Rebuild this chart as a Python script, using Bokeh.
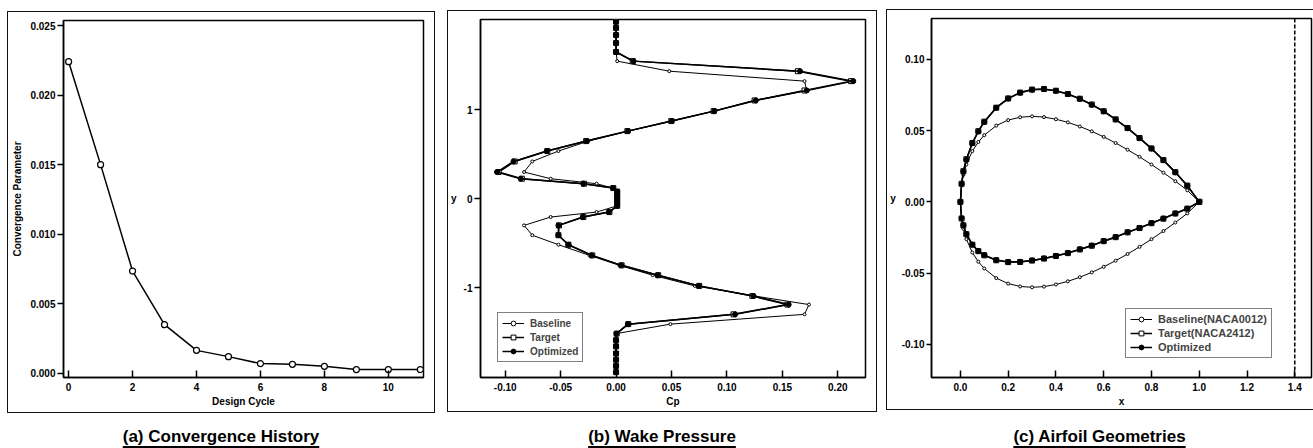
from bokeh.plotting import figure
from bokeh.models import Range1d, FixedTicker, PrintfTickFormatter, Span, Div
from bokeh.layouts import row, column
from bokeh.embed import file_html
from bokeh.resources import INLINE

FONT = "Liberation Sans"

# ---------------- (a) Convergence History ----------------
design_cycle = [0, 1, 2, 3, 4, 5, 6, 7, 8, 9, 10, 11]
convergence = [0.0224, 0.0150, 0.00735, 0.0035, 0.00165, 0.0012, 0.0007, 0.00065, 0.0005, 0.00027, 0.00027, 0.00027]

# ---------------- (b) Wake Pressure ----------------
wake_y = [1.99, 1.92, 1.84, 1.75, 1.65,
          1.547, 1.434, 1.322, 1.217, 1.105, 0.985, 0.873, 0.760, 0.648, 0.536, 0.419, 0.300, 0.225, 0.169, 0.120,
          0.080, 0.040, 0.000, -0.040, -0.080,
          -0.150, -0.206, -0.300, -0.410, -0.517, -0.637, -0.749, -0.860, -0.980, -1.094, -1.190, -1.300, -1.410, -1.517,
          -1.59, -1.66, -1.74, -1.81, -1.88, -1.95]
cp_baseline = [0, 0, 0, 0, 0,
               0.001, 0.048, 0.170, 0.172, 0.125, 0.088, 0.050, 0.011, -0.025, -0.052, -0.0756, -0.083, -0.059, -0.0176, -0.003,
               0.001, 0.001, 0.001, 0.001, 0.001,
               -0.0176, -0.059, -0.083, -0.0756, -0.052, -0.024, 0.003, 0.033, 0.071, 0.125, 0.174, 0.170, 0.049, 0.0,
               0, 0, 0, 0, 0, 0]
cp_target = [0, 0, 0, 0, 0,
             0.0150, 0.164, 0.212, 0.170, 0.125, 0.0880, 0.0498, 0.0102, -0.0270, -0.0620, -0.0915, -0.1060, -0.0850, -0.0290, -0.0025,
             0.001, 0.001, 0.001, 0.001, 0.001,
             -0.0060, -0.0295, -0.0515, -0.0520, -0.0430, -0.0215, 0.0050, 0.0380, 0.0750, 0.1230, 0.1545, 0.1060, 0.0110, 0.0005,
             0, 0, 0, 0, 0, 0]
cp_optimized = [0, 0, 0, 0, 0,
                0.0158, 0.166, 0.214, 0.172, 0.126, 0.0887, 0.0503, 0.0107, -0.0265, -0.0625, -0.0925, -0.1074, -0.0860, -0.0295, -0.0027,
                0.001, 0.001, 0.001, 0.001, 0.001,
                -0.0065, -0.0300, -0.0520, -0.0520, -0.0430, -0.0220, 0.0047, 0.0375, 0.0747, 0.1238, 0.1557, 0.1074, 0.0107, 0.0003,
                0, 0, 0, 0, 0, 0]

# ---------------- (c) Airfoil Geometries ----------------
chord_x = [0.0, 0.005, 0.0125, 0.025, 0.05, 0.075, 0.1, 0.15, 0.2, 0.25, 0.3, 0.35, 0.4,
           0.45, 0.5, 0.55, 0.6, 0.65, 0.7, 0.75, 0.8, 0.85, 0.9, 0.95, 1.0]
baseline_upper = [0.0, 0.0122, 0.0189, 0.0262, 0.0356, 0.0420, 0.0468, 0.0535, 0.0574, 0.0594, 0.0600, 0.0595, 0.0580,
                  0.0558, 0.0529, 0.0495, 0.0456, 0.0413, 0.0366, 0.0316, 0.0262, 0.0205, 0.0145, 0.0081, 0.0]
baseline_lower = [0.0, -0.0122, -0.0189, -0.0262, -0.0356, -0.0420, -0.0468, -0.0535, -0.0574, -0.0594, -0.0600, -0.0595, -0.0580,
                  -0.0558, -0.0529, -0.0495, -0.0456, -0.0413, -0.0366, -0.0316, -0.0262, -0.0205, -0.0145, -0.0081, 0.0]
target_upper = [0.0, 0.0127, 0.0215, 0.0299, 0.0413, 0.0496, 0.0563, 0.0661, 0.0726, 0.0767, 0.0788, 0.0792, 0.0780,
                0.0757, 0.0724, 0.0683, 0.0636, 0.0579, 0.0518, 0.0448, 0.0375, 0.0293, 0.0208, 0.0114, 0.0]
target_lower = [0.0, -0.0117, -0.0165, -0.0227, -0.0301, -0.0346, -0.0375, -0.0410, -0.0423, -0.0422, -0.0412, -0.0398, -0.0380,
                -0.0360, -0.0334, -0.0308, -0.0276, -0.0248, -0.0214, -0.0184, -0.0150, -0.0118, -0.0082, -0.0048, 0.0]
optimized_upper = [0.0, 0.0125, 0.0213, 0.0297, 0.0411, 0.0494, 0.0561, 0.0660, 0.0725, 0.0766, 0.0787, 0.0791, 0.0779,
                   0.0756, 0.0723, 0.0682, 0.0635, 0.0578, 0.0517, 0.0447, 0.0374, 0.0292, 0.0207, 0.0113, 0.0]
optimized_lower = [0.0, -0.0115, -0.0164, -0.0226, -0.0300, -0.0345, -0.0374, -0.0409, -0.0422, -0.0421, -0.0411, -0.0397, -0.0379,
                   -0.0359, -0.0333, -0.0307, -0.0275, -0.0247, -0.0213, -0.0183, -0.0149, -0.0117, -0.0081, -0.0047, 0.0]
outflow_station_x = 1.4


def loop(xs, upper, lower):
    # closed outline: trailing edge -> leading edge along upper, back along lower
    return list(reversed(xs)) + xs[1:], list(reversed(upper)) + lower[1:]


def make_fig(width, height, xr, yr, bl, br, bt, bb, xticks, yticks, xfmt, yfmt, xlabel, ylabel, ylab_horizontal=False):
    p = figure(width=width, height=height, x_range=Range1d(*xr), y_range=Range1d(*yr),
               output_backend="svg", toolbar_location=None,
               min_border_left=bl, min_border_right=br, min_border_top=bt, min_border_bottom=bb,
               background_fill_color="white", border_fill_color="white")
    p.grid.visible = False
    p.outline_line_color = "black"
    p.outline_line_width = 1.5
    for ax in p.xaxis:
        ax.ticker = FixedTicker(ticks=xticks)
        ax.formatter = PrintfTickFormatter(format=xfmt)
        ax.major_tick_in = 7
        ax.major_tick_out = 0
        ax.axis_label = xlabel
        ax.major_label_standoff = 5
        ax.axis_label_standoff = 2
    for ax in p.yaxis:
        ax.ticker = FixedTicker(ticks=yticks)
        ax.formatter = PrintfTickFormatter(format=yfmt)
        ax.major_tick_in = 0
        ax.major_tick_out = 6
        ax.axis_label = ylabel
        ax.major_label_standoff = 2
        ax.axis_label_standoff = 4
        if ylab_horizontal:
            ax.axis_label_orientation = "horizontal"
    for ax in p.xaxis + p.yaxis:
        ax.minor_tick_in = 0
        ax.minor_tick_out = 0
        ax.axis_line_width = 1.5
        ax.major_tick_line_width = 1.5
        ax.major_label_text_font = FONT
        ax.major_label_text_font_style = "bold"
        ax.major_label_text_font_size = "10px"
        ax.major_label_text_color = "black"
        ax.axis_label_text_font = FONT
        ax.axis_label_text_font_style = "bold"
        ax.axis_label_text_font_size = "10px"
        ax.axis_label_text_color = "black"
    # outer panel box, drawn just outside the canvas
    p.styles = {"outline": "1.5px solid #111", "outline-offset": "0px"}
    return p


def style_legend(p, loc, font_size):
    lg = p.legend[0]
    lg.location = loc
    lg.border_line_color = "black"
    lg.border_line_width = 1
    lg.background_fill_color = "white"
    lg.background_fill_alpha = 1
    lg.label_text_font = FONT
    lg.label_text_font_style = "bold"
    lg.label_text_font_size = font_size
    lg.glyph_width = 22
    lg.glyph_height = 12
    lg.label_height = 12
    lg.spacing = 2
    lg.padding = 4
    lg.margin = 0
    lg.label_standoff = 6


def caption(text, width, ml, mt):
    html = ('<div style="width:%dpx;text-align:center;font-family:\'Liberation Sans\',Arial,sans-serif;'
            'font-weight:bold;font-size:17px;line-height:20px;color:#000;">'
            '<span style="text-decoration:underline;text-underline-offset:4px;text-decoration-thickness:1.5px;">%s</span></div>'
            % (width, text))
    return Div(text=html, width=width, height=20, margin=(mt, 0, 0, ml))


# ---- panel (a)
p1 = make_fig(426, 400, (-0.16, 11.1), (-0.0003, 0.02536), 55, 11, 8, 35,
              [0, 2, 4, 6, 8, 10], [0.0, 0.005, 0.010, 0.015, 0.020, 0.025], "%d", "%.3f",
              "Design Cycle", "Convergence Parameter")
p1.line(design_cycle, convergence, line_color="black", line_width=1.5)
p1.scatter(design_cycle, convergence, marker="circle", size=6, fill_color="white", line_color="black", line_width=1.2)
p1.margin = (12, 1, 0, 8)

# ---- panel (b)
p2 = make_fig(428, 400, (-0.1223, 0.225), (-2.01, 2.015), 28, 11, 8, 34,
              [-0.10, -0.05, 0.0, 0.05, 0.10, 0.15, 0.20], [-1, 0, 1], "%.2f", "%d",
              "Cp", "y", ylab_horizontal=True)
p2.line(cp_baseline, wake_y, line_color="black", line_width=1, legend_label="Baseline")
p2.scatter(cp_baseline, wake_y, marker="circle", size=3, fill_color="white", line_color="black", line_width=1, legend_label="Baseline")
p2.line(cp_target, wake_y, line_color="black", line_width=1.5, legend_label="Target")
p2.scatter(cp_target, wake_y, marker="square", size=5, fill_color="white", line_color="black", line_width=1, legend_label="Target")
p2.line(cp_optimized, wake_y, line_color="black", line_width=1.5, legend_label="Optimized")
p2.scatter(cp_optimized, wake_y, marker="circle", size=5, fill_color="black", line_color="black", legend_label="Optimized")
style_legend(p2, (17, 15), "10px")
p2.margin = (11, 1, 0, 13)

# ---- panel (c)
p3 = make_fig(426, 399, (-0.121, 1.47), (-0.1233, 0.1287), 44, 2, 8, 31,
              [0.0, 0.2, 0.4, 0.6, 0.8, 1.0, 1.2, 1.4], [-0.10, -0.05, 0.0, 0.05, 0.10], "%.1f", "%.2f",
              "x", "y", ylab_horizontal=True)
p3.yaxis[0].major_tick_out = 5
p3.yaxis[0].axis_label_standoff = 3
bx, by = loop(chord_x, baseline_upper, baseline_lower)
tx, ty = loop(chord_x, target_upper, target_lower)
ox, oy = loop(chord_x, optimized_upper, optimized_lower)
p3.line(bx, by, line_color="black", line_width=1, legend_label="Baseline(NACA0012)")
p3.scatter(bx, by, marker="circle", size=3, fill_color="white", line_color="black", line_width=1, legend_label="Baseline(NACA0012)")
p3.line(tx, ty, line_color="black", line_width=1.5, legend_label="Target(NACA2412)")
p3.scatter(tx, ty, marker="square", size=5, fill_color="white", line_color="black", line_width=1, legend_label="Target(NACA2412)")
p3.line(ox, oy, line_color="black", line_width=1.5, legend_label="Optimized")
p3.scatter(ox, oy, marker="circle", size=5, fill_color="black", line_color="black", legend_label="Optimized")
p3.add_layout(Span(location=outflow_station_x, dimension="height", line_color="black", line_width=1.5, line_dash="4 2"))
style_legend(p3, (194, 19), "11px")
p3.margin = (10, 0, 0, 10)

colA = column(p1, caption("(a) Convergence History", 428, 7, 15), spacing=0)
colB = column(p2, caption("(b) Wake Pressure", 430, 12, 16), spacing=0)
colC = column(p3, caption("(c) Airfoil Geometries", 427, 9, 18), spacing=0)
layout = row(colA, colB, colC, spacing=0)

open("out.html", "w").write(file_html(layout, INLINE))
